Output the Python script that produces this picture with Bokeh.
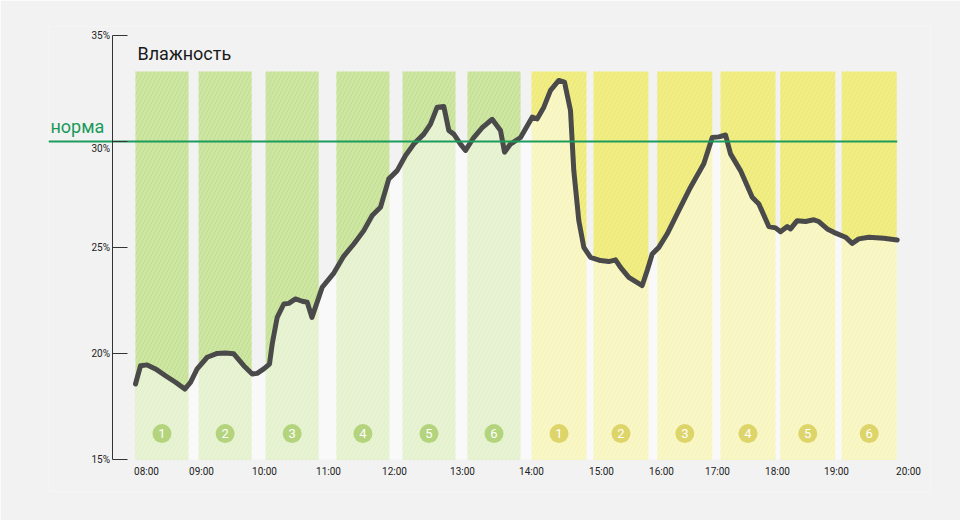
from bokeh.plotting import figure
from bokeh.models import FixedTicker, PrintfTickFormatter, Label, ColumnDataSource
from bokeh.core.properties import value
from bokeh.embed import file_html
from bokeh.resources import INLINE

# ---- data ----
hours = [7.827, 7.906, 8.011, 8.142, 8.299, 8.457, 8.603, 8.693, 8.798, 8.956,
         9.113, 9.244, 9.375, 9.532, 9.665, 9.743, 9.847, 9.937, 9.980, 10.058,
         10.162, 10.241, 10.346, 10.452, 10.531, 10.606, 10.767, 10.950, 11.107, 11.265,
         11.422, 11.554, 11.685, 11.816, 11.948, 12.079, 12.209, 12.367, 12.472, 12.578,
         12.682, 12.761, 12.839, 12.945, 13.024, 13.154, 13.287, 13.444, 13.575, 13.638,
         13.732, 13.890, 14.074, 14.153, 14.257, 14.362, 14.493, 14.583, 14.677, 14.729,
         14.808, 14.887, 14.992, 15.150, 15.280, 15.386, 15.465, 15.595, 15.806, 15.885,
         15.964, 16.068, 16.200, 16.383, 16.567, 16.776, 16.909, 17.013, 17.118, 17.197,
         17.354, 17.539, 17.643, 17.800, 17.906, 17.984, 18.090, 18.142, 18.247, 18.378,
         18.509, 18.587, 18.720, 18.824, 19.008, 19.113, 19.217, 19.375, 19.610, 19.822]
humidity = [18.57, 19.43, 19.47, 19.28, 18.96, 18.65, 18.33, 18.65, 19.28, 19.83,
            20.01, 20.03, 19.99, 19.43, 19.04, 19.07, 19.28, 19.51, 20.46, 21.71,
            22.34, 22.37, 22.58, 22.47, 22.42, 21.71, 23.13, 23.80, 24.60, 25.17,
            25.80, 26.51, 26.90, 28.24, 28.63, 29.34, 29.88, 30.35, 30.82, 31.62,
            31.65, 30.52, 30.35, 29.88, 29.58, 30.19, 30.66, 31.05, 30.52, 29.50,
            29.88, 30.19, 31.15, 31.07, 31.62, 32.41, 32.88, 32.80, 31.46, 28.63,
            26.27, 25.01, 24.54, 24.39, 24.34, 24.42, 24.07, 23.60, 23.21, 23.92,
            24.70, 25.01, 25.65, 26.75, 27.85, 28.95, 30.19, 30.22, 30.31, 29.42,
            28.63, 27.37, 27.06, 25.99, 25.93, 25.75, 25.99, 25.88, 26.27, 26.23,
            26.31, 26.23, 25.88, 25.72, 25.49, 25.20, 25.41, 25.49, 25.44, 25.36]

stage_labels = ["1", "2", "3", "4", "5", "6", "1", "2", "3", "4", "5", "6"]
stage_x = [8.244, 9.239, 10.294, 11.408, 12.449, 13.472,
           14.496, 15.472, 16.477, 17.472, 18.413, 19.381]
stage_width = [0.835, 0.835, 0.835, 0.835, 0.835, 0.835,
               0.866, 0.866, 0.866, 0.866, 0.866, 0.866]
stage_group = ["g"] * 6 + ["y"] * 6
stage_top = 33.3

tick_pos = [8.000, 8.866, 9.858, 10.866, 11.906, 12.976, 14.063,
            15.165, 16.110, 16.992, 17.937, 18.866, 20.000]
tick_labels = ["08:00", "09:00", "10:00", "11:00", "12:00", "13:00", "14:00",
               "15:00", "16:00", "17:00", "18:00", "19:00", "20:00"]
y_ticks = [15, 20, 25, 30, 35]
NORM = 30
Y_MIN, Y_MAX = 15, 35

# ---- styles ----
BG = "#f2f2f2"
upper = {"g": "#cde6a2", "y": "#f2ee86"}
hatch = {"g": "#b3d37f", "y": "#e2da5c"}
badge = {"g": "#b3d47c", "y": "#ddd46a"}
FONT = "Roboto"

X_START, X_END = 6.457, 20.346
Y_START, Y_END = 13.5, 35.4245
Y_AXIS_AT = 7.472

p = figure(width=960, height=520, output_backend="svg", toolbar_location=None,
           x_range=(X_START, X_END), y_range=(Y_START, Y_END),
           min_border_left=48, min_border_right=30, min_border_top=26, min_border_bottom=29)
p.background_fill_color = BG
p.border_fill_color = BG
p.outline_line_color = None
p.grid.visible = False

src = ColumnDataSource(dict(
    x=stage_x, w=stage_width, label=stage_labels,
    fill=[upper[g] for g in stage_group],
    hatch=[hatch[g] for g in stage_group],
    badge=[badge[g] for g in stage_group],
))

p.vbar(x="x", width="w", bottom=Y_MIN, top=stage_top, source=src,
       fill_color="fill", line_color=None,
       hatch_pattern="/", hatch_color="hatch", hatch_alpha=0.45,
       hatch_scale=8, hatch_weight=1)

# lighter area under the curve
p.varea(x=hours, y1=Y_MIN, y2=humidity, fill_color="white", fill_alpha=0.52)

# stage badges
badge_y = 16.23
p.scatter(x="x", y=badge_y, size=19, source=src, fill_color="badge", line_color=None)
p.text(x="x", y=badge_y, text="label", source=src, text_color="white",
       text_font=value(FONT), text_font_size="13px",
       text_align="center", text_baseline="middle")

# humidity line
p.line(hours, humidity, line_color="#4a4a4a", line_width=5, line_join="round", line_cap="round")

# norm line
p.line([X_START, hours[-1]], [NORM, NORM], line_color="#1c9c5c", line_width=2)

# texts
p.add_layout(Label(x=6.488, y=30.71, text="норма", text_color="#1a9a5a",
                   text_font=FONT, text_font_size="18px", text_baseline="alphabetic"))
p.add_layout(Label(x=7.858, y=34.14, text="Влажность", text_color="#1a1a1a",
                   text_font=FONT, text_font_size="18px", text_baseline="alphabetic"))

# y axis (fixed inside the frame)
ya = p.yaxis[0]
ya.fixed_location = Y_AXIS_AT
ya.bounds = (Y_MIN, Y_MAX)
ya.ticker = FixedTicker(ticks=y_ticks)
ya.formatter = PrintfTickFormatter(format="%d%%")
ya.major_label_overrides = {NORM: ""}
ya.major_tick_in = 15
ya.major_tick_out = 0
ya.minor_tick_line_color = None
ya.axis_line_color = "#333333"
ya.major_tick_line_color = "#333333"
ya.major_label_text_font = FONT
ya.major_label_text_font_size = "10px"
ya.major_label_text_color = "#222222"
ya.major_label_standoff = 3

# 30% label sits just below the norm line
p.add_layout(Label(x=Y_AXIS_AT, y=NORM, text="%d%%" % NORM, x_offset=-3, y_offset=-7,
                   text_align="right", text_baseline="middle", text_font=FONT,
                   text_font_size="10px", text_color="#222222"))

# x axis (fixed at the bottom of the bars)
xa = p.xaxis[0]
xa.fixed_location = Y_MIN
xa.ticker = FixedTicker(ticks=tick_pos)
xa.major_label_overrides = {t: l for t, l in zip(tick_pos, tick_labels)}
xa.axis_line_color = None
xa.major_tick_line_color = None
xa.minor_tick_line_color = None
xa.major_tick_in = 0
xa.major_tick_out = 0
xa.major_label_text_font = FONT
xa.major_label_text_font_size = "10px"
xa.major_label_text_color = "#222222"
xa.major_label_standoff = 6

open("out.html", "w").write(file_html(p, INLINE))
